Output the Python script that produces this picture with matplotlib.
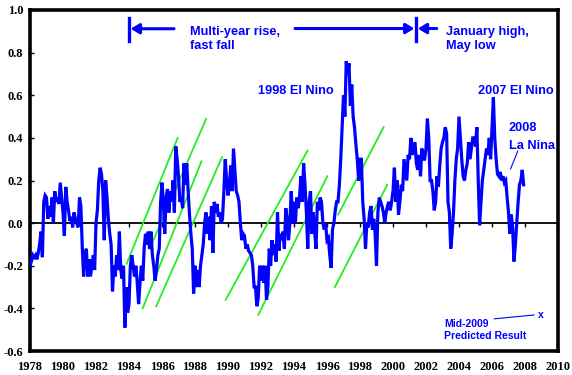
import matplotlib
matplotlib.use("Agg")
import matplotlib.pyplot as plt
import numpy as np

plt.rcParams['axes.unicode_minus'] = False

# Monthly anomaly values (first point sits on the 1978 label)
anomaly = [
    -0.20, -0.18, -0.15, -0.16, -0.15, -0.17, -0.14, -0.10, -0.04, -0.16, 0.10, 0.13,
    0.12, 0.02, 0.08, 0.03, 0.12, 0.00, 0.15, 0.10, 0.12, 0.09, 0.19, 0.12,
    0.05, -0.06, 0.17, 0.10, 0.06, 0.01, 0.03, -0.02, 0.05, 0.02, 0.00, -0.02,
    0.12, 0.08, -0.11, -0.25, -0.15, -0.12, -0.25, -0.17, -0.25, -0.20, -0.15, -0.22,
    0.00, 0.06, 0.20, 0.26, 0.23, 0.15, -0.08, 0.20, 0.12, 0.02, -0.05, -0.10,
    -0.32, -0.20, -0.25, -0.15, -0.22, -0.04, -0.22, -0.26, -0.20, -0.49, -0.30, -0.42,
    -0.38, -0.20, -0.15, -0.20, -0.25, -0.20, -0.28, -0.38, -0.28, -0.20, -0.27, -0.12,
    -0.05, -0.10, -0.04, -0.12, -0.04, -0.15, -0.20, -0.27, -0.22, -0.15, -0.12, 0.10,
    0.19, 0.10, -0.05, 0.12, 0.16, 0.05, 0.15, 0.10, 0.20, 0.05, 0.36, 0.30,
    0.22, 0.10, 0.12, 0.07, 0.28, 0.18, 0.28, 0.15, 0.04, -0.05, -0.12, -0.33,
    -0.20, -0.30, -0.22, -0.30, -0.20, -0.15, -0.10, 0.00, 0.05, -0.05, 0.03, -0.08,
    0.08, -0.14, 0.10, 0.05, 0.09, 0.03, 0.05, 0.00, 0.02, 0.15, 0.30, 0.20,
    0.13, 0.18, 0.27, 0.15, 0.35, 0.25, 0.15, 0.13, 0.10, 0.00, -0.08, -0.05,
    -0.06, -0.12, -0.10, -0.13, -0.14, -0.15, -0.20, -0.30, -0.30, -0.39, -0.35, -0.20,
    -0.27, -0.20, -0.28, -0.20, -0.36, -0.30, -0.12, -0.20, -0.08, -0.15, -0.10, -0.18,
    0.05, -0.13, -0.05, -0.08, -0.04, -0.12, 0.07, 0.02, -0.08, 0.00, 0.15, 0.00,
    0.10, 0.00, 0.12, 0.07, 0.12, 0.22, 0.10, 0.28, 0.18, 0.05, -0.12, 0.10,
    0.15, -0.05, 0.05, -0.04, -0.12, 0.10, 0.06, 0.12, 0.10, 0.00, -0.03, 0.00,
    -0.08, -0.07, -0.15, -0.21, -0.03, 0.00, 0.06, 0.10, 0.10, 0.18, 0.30, 0.45,
    0.60, 0.50, 0.76, 0.70, 0.75, 0.55, 0.65, 0.50, 0.45, 0.37, 0.30, 0.20,
    0.30, 0.30, 0.10, 0.02, -0.12, 0.00, -0.02, 0.05, 0.08, -0.03, 0.02, -0.05,
    -0.20, 0.05, 0.12, 0.10, 0.08, 0.05, 0.00, 0.05, 0.08, 0.10, 0.06, 0.10,
    0.15, 0.26, 0.10, 0.20, 0.04, 0.10, 0.18, 0.15, 0.30, 0.25, 0.20, 0.32,
    0.30, 0.40, 0.32, 0.35, 0.38, 0.28, 0.25, 0.32, 0.22, 0.35, 0.30, 0.30,
    0.35, 0.49, 0.40, 0.20, 0.20, 0.15, 0.06, 0.10, 0.22, 0.17, 0.27, 0.35,
    0.38, 0.40, 0.45, 0.42, 0.10, 0.05, -0.12, -0.05, 0.05, 0.20, 0.30, 0.35,
    0.50, 0.40, 0.30, 0.22, 0.20, 0.25, 0.28, 0.38, 0.30, 0.35, 0.40, 0.40,
    0.36, 0.45, 0.20, -0.01, 0.10, 0.20, 0.25, 0.30, 0.35, 0.32, 0.40, 0.30,
    0.45, 0.59, 0.40, 0.30, 0.23, 0.22, 0.24, 0.20, 0.22, 0.19, 0.20, 0.12,
    0.05, -0.05, 0.04, -0.02, -0.18, -0.10, 0.00, 0.10, 0.18, 0.20, 0.25, 0.18,
]
start_year = 1978

# Green "multi-year rise" trend lines: (x0, y0) -> (x1, y1)
trend_x0 = [1983.86, 1984.83, 1985.25, 1985.65, 1989.86, 1991.84, 1996.68, 1996.48]
trend_y0 = [-0.19, -0.40, -0.12, -0.39, -0.36, -0.43, 0.04, -0.30]
trend_x1 = [1986.95, 1988.39, 1988.68, 1989.64, 1994.82, 1996.02, 1999.43, 1999.65]
trend_y1 = [0.40, 0.29, 0.49, 0.31, 0.34, 0.22, 0.45, 0.18]

x_ticks = list(range(1978, 2011, 2))
y_ticks = [-0.6, -0.4, -0.2, 0.0, 0.2, 0.4, 0.6, 0.8, 1.0]

years = start_year + np.arange(len(anomaly)) / 12.0

fig = plt.figure(figsize=(5.72, 3.75), dpi=100)
ax = fig.add_axes([30 / 572, 24 / 375, 528 / 572, 341 / 375])

blue = '#0000FF'
green = '#22EE22'

for x0, y0, x1, y1 in zip(trend_x0, trend_y0, trend_x1, trend_y1):
    ax.plot([x0, x1], [y0, y1], color=green, lw=1.3, zorder=3)

ax.plot(years, anomaly, color=blue, lw=2.3, zorder=4, solid_joinstyle='miter')

ax.set_xlim(1978, 2010)
ax.set_ylim(-0.6, 1.0)

# zero line carrying the category ticks
zero_axis = ax.secondary_xaxis(0.6 / 1.6)
zero_axis.set_xticks(x_ticks)
zero_axis.xaxis.set_ticks_position('bottom')
zero_axis.tick_params(axis='x', direction='out', length=3, width=1, labelbottom=False, labeltop=False)
for s in zero_axis.spines.values():
    s.set_linewidth(1.3)

tick_font = dict(family='Liberation Serif', weight='bold', size=9)
ax.set_xticks(x_ticks)
ax.set_xticklabels([str(v) for v in x_ticks], **tick_font)
ax.set_yticks(y_ticks)
ax.set_yticklabels(['%.1f' % v for v in y_ticks], **tick_font)
ax.tick_params(axis='x', length=0, pad=7)
ax.tick_params(axis='y', direction='in', length=3, width=1, pad=5)

for s in ax.spines.values():
    s.set_linewidth(2.6)

# annotations
txt = dict(color=blue, family='Liberation Sans', weight='bold', fontsize=9.2)
head = dict(arrowstyle='-|>,head_length=0.5,head_width=0.3', color=blue, lw=2.2, shrinkA=0, shrinkB=0)

ax.plot([1983.97, 1983.97], [0.854, 0.962], color=blue, lw=2.4)
ax.annotate('', xy=(1984.10, 0.912), xytext=(1986.73, 0.912), arrowprops=head)
ax.text(1987.70, 0.925, 'Multi-year rise,\nfast fall', va='top', ha='left', linespacing=1.25, **txt)

ax.annotate('', xy=(2001.30, 0.913), xytext=(1994.06, 0.913), arrowprops=head)
ax.plot([2001.39, 2001.39], [0.854, 0.962], color=blue, lw=2.4)
ax.annotate('', xy=(2001.50, 0.913), xytext=(2002.65, 0.913), arrowprops=head)
ax.text(2003.21, 0.925, 'January high,\nMay low', va='top', ha='left', linespacing=1.25, **txt)

ax.text(1991.84, 0.618, '1998 El Nino', va='center', ha='left', **txt)
ax.text(2005.13, 0.620, '2007 El Nino', va='center', ha='left', **txt)
ax.text(2006.99, 0.444, '2008', va='center', ha='left', **txt)
ax.text(2007.05, 0.364, 'La Nina', va='center', ha='left', **txt)
ax.plot([2007.56, 2007.13], [0.338, 0.255], color=blue, lw=0.8)

small = dict(color=blue, family='Liberation Sans', weight='bold', fontsize=7.5)
ax.text(2003.11, -0.472, 'Mid-2009', va='center', ha='left', **small)
ax.text(2003.11, -0.530, 'Predicted Result', va='center', ha='left', **small)
ax.plot([2006.14, 2008.55], [-0.449, -0.431], color=blue, lw=0.8)
ax.text(2008.93, -0.433, 'x', va='center', ha='center', **small)

fig.savefig('out.png', dpi=100)
